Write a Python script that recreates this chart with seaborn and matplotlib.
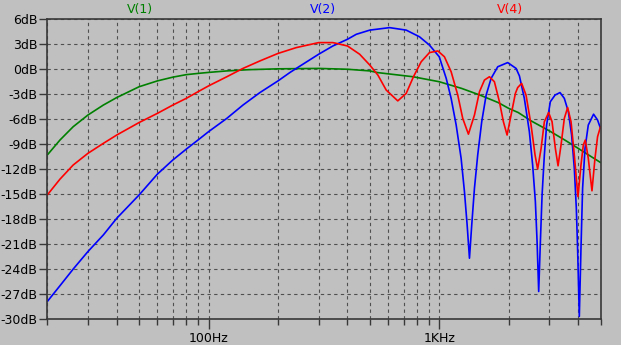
import matplotlib
matplotlib.use("Agg")
import matplotlib.pyplot as plt
import seaborn as sns
import pandas as pd
from matplotlib.ticker import FixedLocator, FixedFormatter, NullFormatter

# ---- data ----
v1_freq = [20, 22.7, 25.9, 30, 35, 40, 50, 60, 70, 80, 90, 100, 120, 150, 200, 300, 400, 500,
           540, 770, 1000, 1250, 1500, 1800, 2000, 2200, 2500, 3000, 3500, 4000, 4500, 5000]
v1_db = [-10.3, -8.5, -6.9, -5.5, -4.3, -3.4, -2.1, -1.4, -0.95, -0.65, -0.5, -0.38, -0.2, -0.05,
         0.05, 0.1, 0.0, -0.2, -0.4, -0.9, -1.5, -2.3, -3.1, -4.0, -4.7, -5.2, -6.2, -7.4, -8.5,
         -9.5, -10.4, -11.2]

v2_freq = [20, 22.7, 25.9, 30, 35, 40, 50, 60, 70, 80, 90, 100, 120, 141, 167, 200, 225, 240,
           300, 346, 400, 437, 500, 609, 719, 821, 907, 1000, 1072, 1126, 1184, 1244, 1286,
           1321, 1352, 1383, 1421, 1468, 1528, 1597, 1678, 1793, 1980, 2153, 2226, 2338,
           2458, 2540, 2610, 2655, 2698, 2744, 2791, 2855, 2920, 3030, 3177, 3338, 3485,
           3627, 3748, 3850, 3928, 3978, 4047, 4115, 4182, 4284, 4426, 4666, 4856, 5000]
v2_db = [-27.9, -26.0, -24.0, -21.9, -19.9, -17.9, -15.1, -12.6, -10.9, -9.6, -8.5, -7.5, -5.9,
         -4.3, -2.8, -1.4, -0.4, 0.1, 1.8, 2.8, 3.6, 4.2, 4.7, 5.0, 4.7, 3.9, 2.9, 1.5, -1.1,
         -3.5, -6.7, -10.7, -14.7, -18.7, -22.7, -18.7, -14.3, -10.3, -6.3, -3.1, -1.1, 0.3,
         0.8, 0.1, -0.8, -3.5, -7.5, -11.5, -15.9, -20.7, -26.7, -20.7, -15.1, -10.3, -6.7,
         -3.9, -3.1, -2.8, -3.5, -5.1, -7.9, -11.9, -16.7, -21.5, -29.7, -21.5, -14.3, -9.5,
         -6.7, -5.4, -6.1, -7.1]

v4_freq = [20, 22.7, 25.9, 30, 35, 40, 50, 60, 70, 80, 90, 100, 120, 141, 167, 200, 240, 300,
           346, 400, 452, 500, 542, 589, 661, 719, 773, 835, 907, 986, 1053, 1126, 1203,
           1264, 1338, 1421, 1494, 1570, 1650, 1734, 1823, 1897, 1968, 2048, 2138, 2188,
           2276, 2378, 2500, 2602, 2670, 2764, 2855, 2980, 3083, 3186, 3273, 3372, 3485,
           3602, 3726, 3850, 3928, 3994, 4115, 4212, 4296, 4426, 4592, 4732, 4856, 5000]
v4_db = [-15.1, -13.2, -11.5, -10.1, -8.9, -7.9, -6.4, -5.3, -4.3, -3.5, -2.7, -2.0, -0.9, 0.1,
         1.0, 1.9, 2.6, 3.2, 3.2, 2.8, 1.8, 0.5, -0.7, -2.5, -3.8, -2.9, -0.9, 0.9, 2.0,
         2.2, 1.5, -0.3, -3.1, -5.9, -7.8, -5.5, -2.7, -1.3, -0.9, -1.5, -3.9, -6.3, -7.9,
         -5.5, -2.9, -2.2, -1.7, -3.1, -6.7, -10.3, -12.0, -9.5, -6.3, -5.2, -6.3, -9.5,
         -11.6, -9.1, -5.9, -4.6, -6.3, -10.3, -13.1, -15.3, -11.5, -9.1, -8.5, -10.7,
         -14.6, -10.7, -8.1, -6.9]

trace_names = ["V(1)", "V(2)", "V(4)"]
trace_colors = ["#008000", "#0000ff", "#ff0000"]

y_ticks = list(range(6, -31, -3))
y_tick_labels = [f"{v}dB" for v in y_ticks]
x_major = [100, 1000]
x_major_labels = ["100Hz", "1KHz"]
x_minor = [20, 30, 40, 50, 60, 70, 80, 90, 200, 300, 400, 500, 600, 700, 800, 900,
           2000, 3000, 4000, 5000]

# ---- figure ----
bg = "#c0c0c0"
grid_c = "#505050"
frame_c = "#383838"

sns.set_theme(style="white")
plt.rcParams["font.family"] = ["DejaVu Sans"]

W, H = 621, 345
fig = plt.figure(figsize=(W / 100, H / 100), dpi=100, facecolor=bg)
left, right, top, bottom = 47.3, 600.5, 19.3, 319.0
ax = fig.add_axes([left / W, 1 - bottom / H, (right - left) / W, (bottom - top) / H],
                  facecolor=bg)
ax.set_xscale("log")

frames = []
for name, f, d in [("V(1)", v1_freq, v1_db), ("V(2)", v2_freq, v2_db), ("V(4)", v4_freq, v4_db)]:
    frames.append(pd.DataFrame({"freq": f, "db": d, "trace": name}))
df = pd.concat(frames, ignore_index=True)

sns.lineplot(data=df, x="freq", y="db", hue="trace", hue_order=trace_names,
             palette=dict(zip(trace_names, trace_colors)), estimator=None, sort=False,
             linewidth=1.2, legend=False, ax=ax)

ax.set_xlim(20, 5000)
ax.set_ylim(-30, 6)
ax.set_xlabel("")
ax.set_ylabel("")

ax.xaxis.set_major_locator(FixedLocator(x_major))
ax.xaxis.set_major_formatter(FixedFormatter(x_major_labels))
ax.xaxis.set_minor_locator(FixedLocator(x_minor))
ax.xaxis.set_minor_formatter(NullFormatter())
ax.yaxis.set_major_locator(FixedLocator(y_ticks))
ax.yaxis.set_major_formatter(FixedFormatter(y_tick_labels))

dash = (0, (3, 3))
ax.grid(True, which="both", axis="x", color=grid_c, linestyle=dash, linewidth=0.8)
ax.grid(True, which="major", axis="y", color=grid_c, linestyle=dash, linewidth=0.8)
ax.set_axisbelow(True)

for s in ax.spines.values():
    s.set_visible(True)
    s.set_color(frame_c)
    s.set_linewidth(1.2)

ax.tick_params(axis="y", which="major", direction="out", length=6, width=1, color=frame_c,
               labelsize=9, labelcolor="black", pad=1, left=True)
ax.tick_params(axis="x", which="major", direction="out", length=7, width=1, color=frame_c,
               labelsize=9, labelcolor="black", pad=2, bottom=True)
ax.tick_params(axis="x", which="minor", direction="out", length=4, width=1, color=frame_c,
               bottom=True)

header_x = [140, 323, 510]
for name, col, hx in zip(trace_names, trace_colors, header_x):
    fig.text(hx / W, 1 - 10 / H, name, color=col, ha="center", va="center", fontsize=9)

fig.savefig("out.png", dpi=100, facecolor=bg)
